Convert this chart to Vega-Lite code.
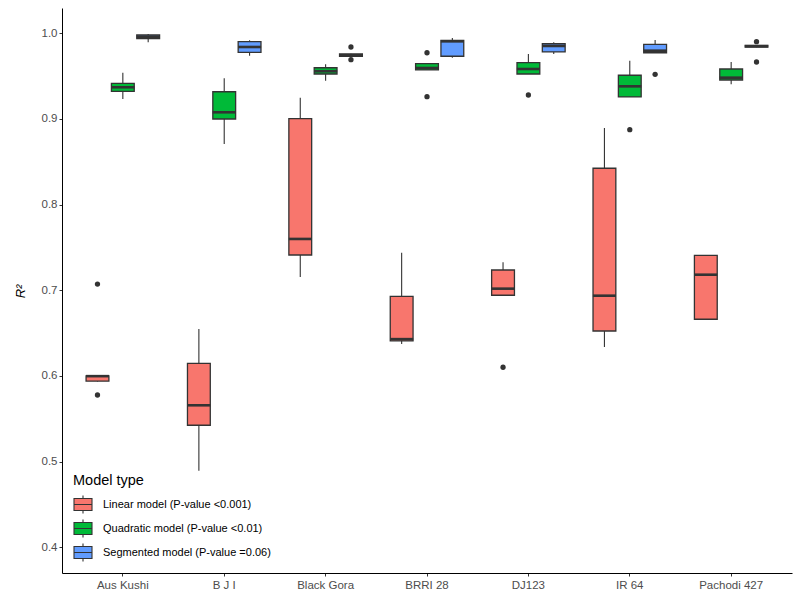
{
  "$schema": "https://vega.github.io/schema/vega-lite/v6.json",
  "width": 730,
  "height": 565,
  "autosize": {"type": "none"},
  "padding": {"left": 62, "top": 8, "right": 5, "bottom": 21},
  "background": "white",
  "config": {
    "font": "Liberation Sans",
    "view": {"stroke": null},
    "axis": {
      "grid": false,
      "domainColor": "black",
      "domainWidth": 1,
      "tickColor": "#333333",
      "tickSize": 3,
      "labelColor": "#4d4d4d",
      "labelFontSize": 11.5,
      "labelFont": "Liberation Sans"
    }
  },
  "datasets": {
    "boxes": [
      {"cultivar": "Aus Kushi", "model": "Linear model (P-value <0.001)", "lo": 0.5935, "q1": 0.594, "med": 0.5998, "q3": 0.600, "hi": 0.6005},
      {"cultivar": "Aus Kushi", "model": "Quadratic model (P-value <0.01)", "lo": 0.9232, "q1": 0.9322, "med": 0.9369, "q3": 0.9415, "hi": 0.9539},
      {"cultivar": "Aus Kushi", "model": "Segmented model (P-value =0.06)", "lo": 0.9894, "q1": 0.9936, "med": 0.9959, "q3": 0.9979, "hi": 0.9991},
      {"cultivar": "B J I", "model": "Linear model (P-value <0.001)", "lo": 0.4895, "q1": 0.5425, "med": 0.5658, "q3": 0.6148, "hi": 0.6548},
      {"cultivar": "B J I", "model": "Quadratic model (P-value <0.01)", "lo": 0.8707, "q1": 0.8999, "med": 0.9077, "q3": 0.9317, "hi": 0.9474},
      {"cultivar": "B J I", "model": "Segmented model (P-value =0.06)", "lo": 0.9738, "q1": 0.9777, "med": 0.9839, "q3": 0.9901, "hi": 0.9917},
      {"cultivar": "Black Gora", "model": "Linear model (P-value <0.001)", "lo": 0.7155, "q1": 0.7412, "med": 0.7599, "q3": 0.9002, "hi": 0.9247},
      {"cultivar": "Black Gora", "model": "Quadratic model (P-value <0.01)", "lo": 0.9446, "q1": 0.9524, "med": 0.9556, "q3": 0.9597, "hi": 0.9637},
      {"cultivar": "Black Gora", "model": "Segmented model (P-value =0.06)", "lo": 0.9728, "q1": 0.9731, "med": 0.9743, "q3": 0.9757, "hi": 0.976},
      {"cultivar": "BRRI 28", "model": "Linear model (P-value <0.001)", "lo": 0.6373, "q1": 0.641, "med": 0.643, "q3": 0.693, "hi": 0.7439},
      {"cultivar": "BRRI 28", "model": "Quadratic model (P-value <0.01)", "lo": 0.9571, "q1": 0.9571, "med": 0.9594, "q3": 0.9644, "hi": 0.9644},
      {"cultivar": "BRRI 28", "model": "Segmented model (P-value =0.06)", "lo": 0.9714, "q1": 0.9731, "med": 0.9905, "q3": 0.9917, "hi": 0.9944},
      {"cultivar": "DJ123", "model": "Linear model (P-value <0.001)", "lo": 0.6942, "q1": 0.6942, "med": 0.7019, "q3": 0.7237, "hi": 0.7327},
      {"cultivar": "DJ123", "model": "Quadratic model (P-value <0.01)", "lo": 0.9524, "q1": 0.9524, "med": 0.9582, "q3": 0.9656, "hi": 0.9757},
      {"cultivar": "DJ123", "model": "Segmented model (P-value =0.06)", "lo": 0.9757, "q1": 0.9781, "med": 0.9851, "q3": 0.9877, "hi": 0.9894},
      {"cultivar": "IR 64", "model": "Linear model (P-value <0.001)", "lo": 0.6338, "q1": 0.6525, "med": 0.6937, "q3": 0.8424, "hi": 0.8894},
      {"cultivar": "IR 64", "model": "Quadratic model (P-value <0.01)", "lo": 0.9256, "q1": 0.9256, "med": 0.938, "q3": 0.9509, "hi": 0.9679},
      {"cultivar": "IR 64", "model": "Segmented model (P-value =0.06)", "lo": 0.9772, "q1": 0.9772, "med": 0.9796, "q3": 0.987, "hi": 0.9921},
      {"cultivar": "Pachodi 427", "model": "Linear model (P-value <0.001)", "lo": 0.6653, "q1": 0.6662, "med": 0.7182, "q3": 0.7408, "hi": 0.7408},
      {"cultivar": "Pachodi 427", "model": "Quadratic model (P-value <0.01)", "lo": 0.9404, "q1": 0.9454, "med": 0.9481, "q3": 0.9582, "hi": 0.9664},
      {"cultivar": "Pachodi 427", "model": "Segmented model (P-value =0.06)", "lo": 0.9836, "q1": 0.9839, "med": 0.9848, "q3": 0.9857, "hi": 0.986}
    ],
    "outliers": [
      {"cultivar": "Aus Kushi", "model": "Linear model (P-value <0.001)", "value": 0.7073},
      {"cultivar": "Aus Kushi", "model": "Linear model (P-value <0.001)", "value": 0.5778},
      {"cultivar": "Black Gora", "model": "Segmented model (P-value =0.06)", "value": 0.9839},
      {"cultivar": "Black Gora", "model": "Segmented model (P-value =0.06)", "value": 0.9691},
      {"cultivar": "BRRI 28", "model": "Quadratic model (P-value <0.01)", "value": 0.9772},
      {"cultivar": "BRRI 28", "model": "Quadratic model (P-value <0.01)", "value": 0.9259},
      {"cultivar": "DJ123", "model": "Linear model (P-value <0.001)", "value": 0.6102},
      {"cultivar": "DJ123", "model": "Quadratic model (P-value <0.01)", "value": 0.9279},
      {"cultivar": "IR 64", "model": "Quadratic model (P-value <0.01)", "value": 0.8874},
      {"cultivar": "IR 64", "model": "Segmented model (P-value =0.06)", "value": 0.952},
      {"cultivar": "Pachodi 427", "model": "Segmented model (P-value =0.06)", "value": 0.9901},
      {"cultivar": "Pachodi 427", "model": "Segmented model (P-value =0.06)", "value": 0.9664}
    ]
  },
  "encoding": {
    "x": {
      "field": "cultivar",
      "type": "nominal",
      "sort": ["Aus Kushi", "B J I", "Black Gora", "BRRI 28", "DJ123", "IR 64", "Pachodi 427"],
      "scale": {"paddingInner": 0, "paddingOuter": 0.1},
      "axis": {"title": null, "labelAngle": 0, "labelPadding": 3}
    },
    "xOffset": {
      "field": "model",
      "type": "nominal",
      "sort": ["Linear model (P-value <0.001)", "Quadratic model (P-value <0.01)", "Segmented model (P-value =0.06)"],
      "scale": {"paddingInner": 0.1, "paddingOuter": 0.55}
    }
  },
  "layer": [
    {
      "data": {"name": "boxes"},
      "mark": {"type": "rule", "color": "#333333", "strokeWidth": 1.1},
      "encoding": {
        "y": {
          "field": "lo",
          "type": "quantitative",
          "scale": {"domain": [0.3701, 1.0294], "nice": false, "zero": false},
          "axis": {
            "values": [0.4, 0.5, 0.6, 0.7, 0.8, 0.9, 1.0],
            "format": ".1f",
            "title": "R²",
            "titleFontStyle": "italic",
            "titleFontWeight": "normal",
            "titleFontSize": 13,
            "titleColor": "black",
            "titleX": -42,
            "titleY": 283,
            "titleAngle": -90,
            "titleAlign": "center",
            "titleBaseline": "middle"
          }
        },
        "y2": {"field": "hi"}
      }
    },
    {
      "data": {"name": "boxes"},
      "mark": {"type": "bar", "stroke": "#333333", "strokeWidth": 1.3},
      "encoding": {
        "y": {"field": "q1", "type": "quantitative"},
        "y2": {"field": "q3"},
        "fill": {
          "field": "model",
          "type": "nominal",
          "scale": {
            "domain": ["Linear model (P-value <0.001)", "Quadratic model (P-value <0.01)", "Segmented model (P-value =0.06)"],
            "range": ["#F8766D", "#00BA38", "#619CFF"]
          },
          "legend": {
            "orient": "none",
            "legendX": 11,
            "legendY": 466,
            "direction": "vertical",
            "title": "Model type",
            "titleFontSize": 14.5,
            "titleFontWeight": "normal",
            "titleColor": "black",
            "titlePadding": 6,
            "labelFontSize": 11,
            "labelColor": "black",
            "labelOffset": 10,
            "labelLimit": 0,
            "symbolType": "M-1,-0.67H1V0.67H-1Z M-1,0H1 M0,-0.67V-1 M0,0.67V1",
            "symbolSize": 324,
            "symbolStrokeColor": "#333333",
            "symbolStrokeWidth": 1.1,
            "symbolOpacity": 1,
            "rowPadding": 0,
            "padding": 0
          }
        }
      }
    },
    {
      "data": {"name": "boxes"},
      "mark": {"type": "tick", "color": "#333333", "size": 23, "thickness": 2.6, "opacity": 1},
      "encoding": {
        "y": {"field": "med", "type": "quantitative"}
      }
    },
    {
      "data": {"name": "outliers"},
      "mark": {"type": "point", "filled": true, "color": "#333333", "size": 28, "opacity": 1},
      "encoding": {
        "y": {"field": "value", "type": "quantitative"}
      }
    }
  ]
}
